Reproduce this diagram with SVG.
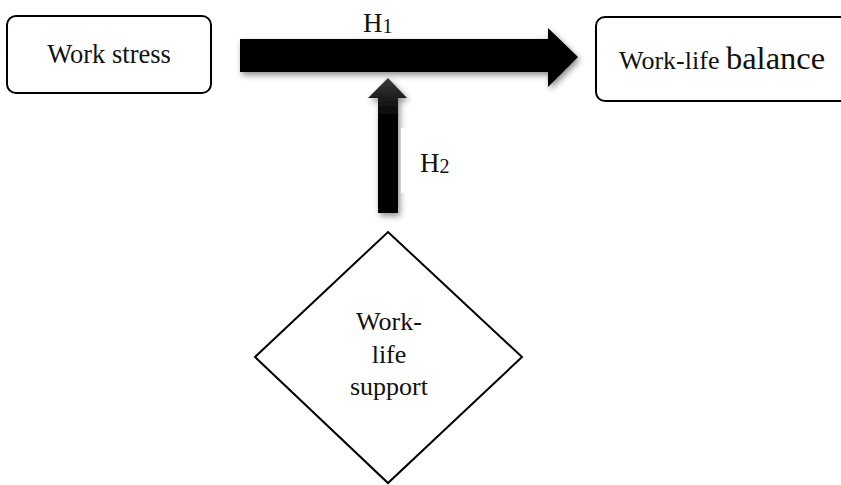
<svg xmlns="http://www.w3.org/2000/svg" width="841" height="485" viewBox="0 0 841 485">
<style>
.box{fill:#fff;stroke:#000;stroke-width:2}
.t{fill:#111}
</style>
<defs>
<filter id="sh" x="-20%" y="-40%" width="140%" height="180%">
<feDropShadow dx="2" dy="3" stdDeviation="3" flood-color="#000" flood-opacity="0.45"/>
</filter>
<linearGradient id="vg" x1="0" y1="0" x2="0" y2="1">
<stop offset="0" stop-color="#3a3a3a"/>
<stop offset="0.3" stop-color="#000"/>
<stop offset="1" stop-color="#000"/>
</linearGradient>
</defs>
<rect width="841" height="485" fill="#fff"/>
<g font-family="'Liberation Serif', 'DejaVu Serif', serif">
<g id="connectors">
<g id="h1-arrow">
<polygon points="240,39 548,39 548,28 578,57 548,87 548,72 240,72" fill="#000" filter="url(#sh)"/>
</g>
<g id="h2-arrow">
<polygon points="378,213 378,98 368,98 388,78 407,98 398,98 398,213" fill="url(#vg)" filter="url(#sh)"/>
</g>
<rect x="401" y="128" width="40" height="65" fill="#fff"/>
<text class="t" x="363" y="32" font-size="27">H<tspan font-size="20" dy="1">1</tspan></text>
<text class="t" x="420" y="172" font-size="27">H<tspan font-size="20" dy="1">2</tspan></text>
</g>
<g id="work-stress">
<rect class="box" x="7" y="16" width="204" height="77" rx="9"/>
<text class="t" x="109" y="63" font-size="26.5" text-anchor="middle">Work stress</text>
</g>
<g id="work-life-balance">
<rect class="box" x="596" y="17" width="270" height="84" rx="9"/>
<text class="t" x="619" y="69" font-size="26">Work-life <tspan font-size="32.5">balance</tspan></text>
</g>
<g id="work-life-support">
<polygon class="box" points="388,232 522,357 388,483 255,357"/>
<text class="t" x="389" y="330" font-size="26" text-anchor="middle">Work-</text>
<text class="t" x="389" y="363" font-size="26" text-anchor="middle">life</text>
<text class="t" x="389" y="395" font-size="26" text-anchor="middle">support</text>
</g>
</g>
</svg>
